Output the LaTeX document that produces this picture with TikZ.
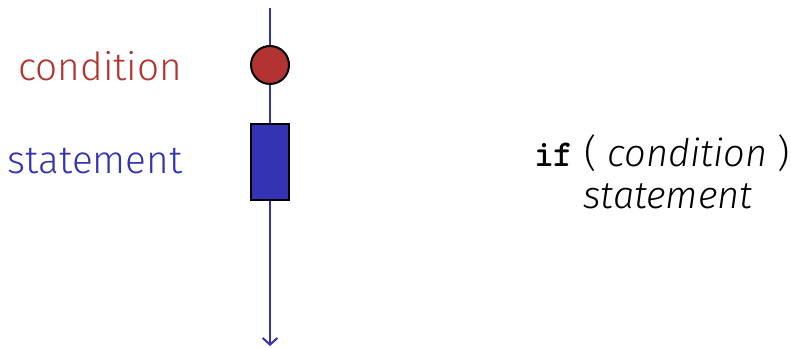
\documentclass[tikz,border=0pt]{standalone}
\usepackage{fontspec}
\setmainfont{Fira Sans Light}[ItalicFont={Fira Sans Light Italic}]
\newfontfamily\codefont{lmmonolt10-bold.otf}
\usetikzlibrary{arrows.meta}
\definecolor{condred}{RGB}{179,51,51}
\definecolor{stmtblue}{RGB}{51,51,179}
\tikzset{every picture/.style={line width=0.75pt}}

\begin{document}
\begin{tikzpicture}[x=0.75pt,y=0.75pt,yscale=-1,xscale=1]
\useasboundingbox (0,0) rectangle (791,348);

%Shape: Circle [id:cond]
\node [circle,draw=black,fill=condred,line width=1.5,minimum size=28.5pt,inner sep=0] (cond) at (270,65) {};
%Shape: Rectangle [id:stmt]
\node [rectangle,draw=black,fill=stmtblue,line width=1.5,minimum width=28.5pt,minimum height=57pt,inner sep=0] (stmt) at (270,162) {};
\coordinate (top) at (270,8);
\coordinate (bottom) at (270,346);

%Straight Lines [id:flow]
\draw [color=stmtblue,line width=1.5]  (top) -- (cond) ;
\draw [color=stmtblue,line width=1.5]  (cond) -- (stmt) ;
\draw [color=stmtblue,line width=1.5,-{Straight Barb[length=5pt,width=11pt]}]  (stmt) -- (bottom) ;

% Text Node
\node [color=condred,font=\fontsize{29}{34}\selectfont] (condlbl) at (100,66) {condition};
% Text Node
\node [color=stmtblue,font=\fontsize{29}{34}\selectfont] (stmtlbl) at (95,161) {statement};
% Text Node
\node [font=\fontsize{28.5}{32}\selectfont] (codeif) at (662,153) {{\codefont if} ( \textit{condition} )};
% Text Node
\node [font=\fontsize{28.5}{32}\selectfont] (codebody) at (668,196) {\textit{statement}};

\end{tikzpicture}
\end{document}
